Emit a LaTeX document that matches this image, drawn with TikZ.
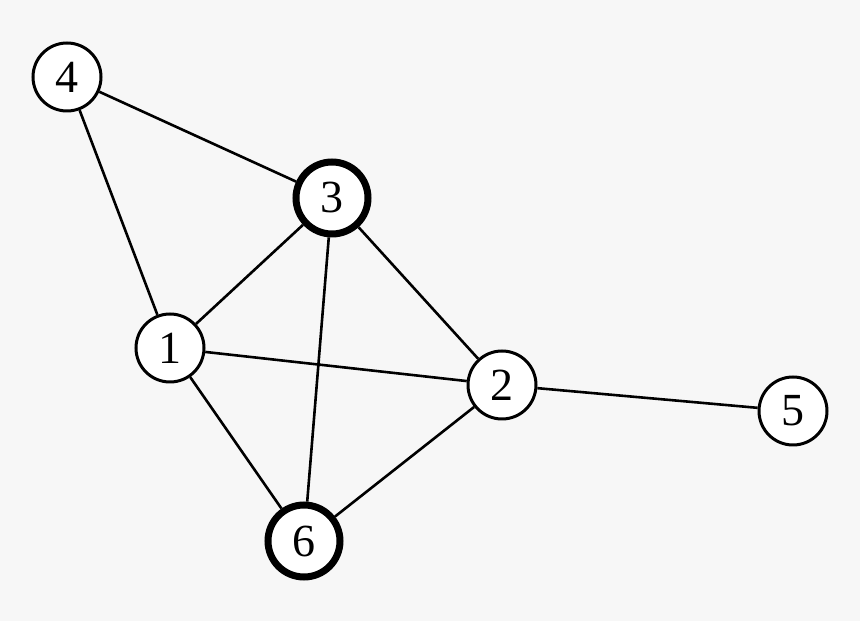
\documentclass[tikz,border=0pt]{standalone}
\usepackage{fontspec}
\setmainfont{Liberation Serif}
\definecolor{bgc}{HTML}{F7F7F7}
\begin{document}
\begin{tikzpicture}[x=1pt,y=1pt,
  vert/.style={circle,draw=black,fill=white,line width=3pt,minimum size=68pt,inner sep=0pt,font=\fontsize{46}{46}\selectfont},
  thickvert/.style={vert,line width=7pt,minimum size=72pt},
  edge/.style={line width=2.6pt,black}]
\fill[bgc] (0,0) rectangle (860,621);
\useasboundingbox (0,0) rectangle (860,621);
\node[vert] (n4) at (67,544) {4};
\node[thickvert] (n3) at (332,423) {3};
\node[vert] (n1) at (170,273) {1};
\node[vert] (n2) at (502,236) {2};
\node[vert] (n5) at (793,210) {5};
\node[thickvert] (n6) at (304,80) {6};
\begin{scope}[on background layer/.try]
\end{scope}
\draw[edge] (n4) -- (n3);
\draw[edge] (n4) -- (n1);
\draw[edge] (n3) -- (n1);
\draw[edge] (n3) -- (n2);
\draw[edge] (n3) -- (n6);
\draw[edge] (n1) -- (n2);
\draw[edge] (n1) -- (n6);
\draw[edge] (n2) -- (n6);
\draw[edge] (n2) -- (n5);
\end{tikzpicture}
\end{document}
